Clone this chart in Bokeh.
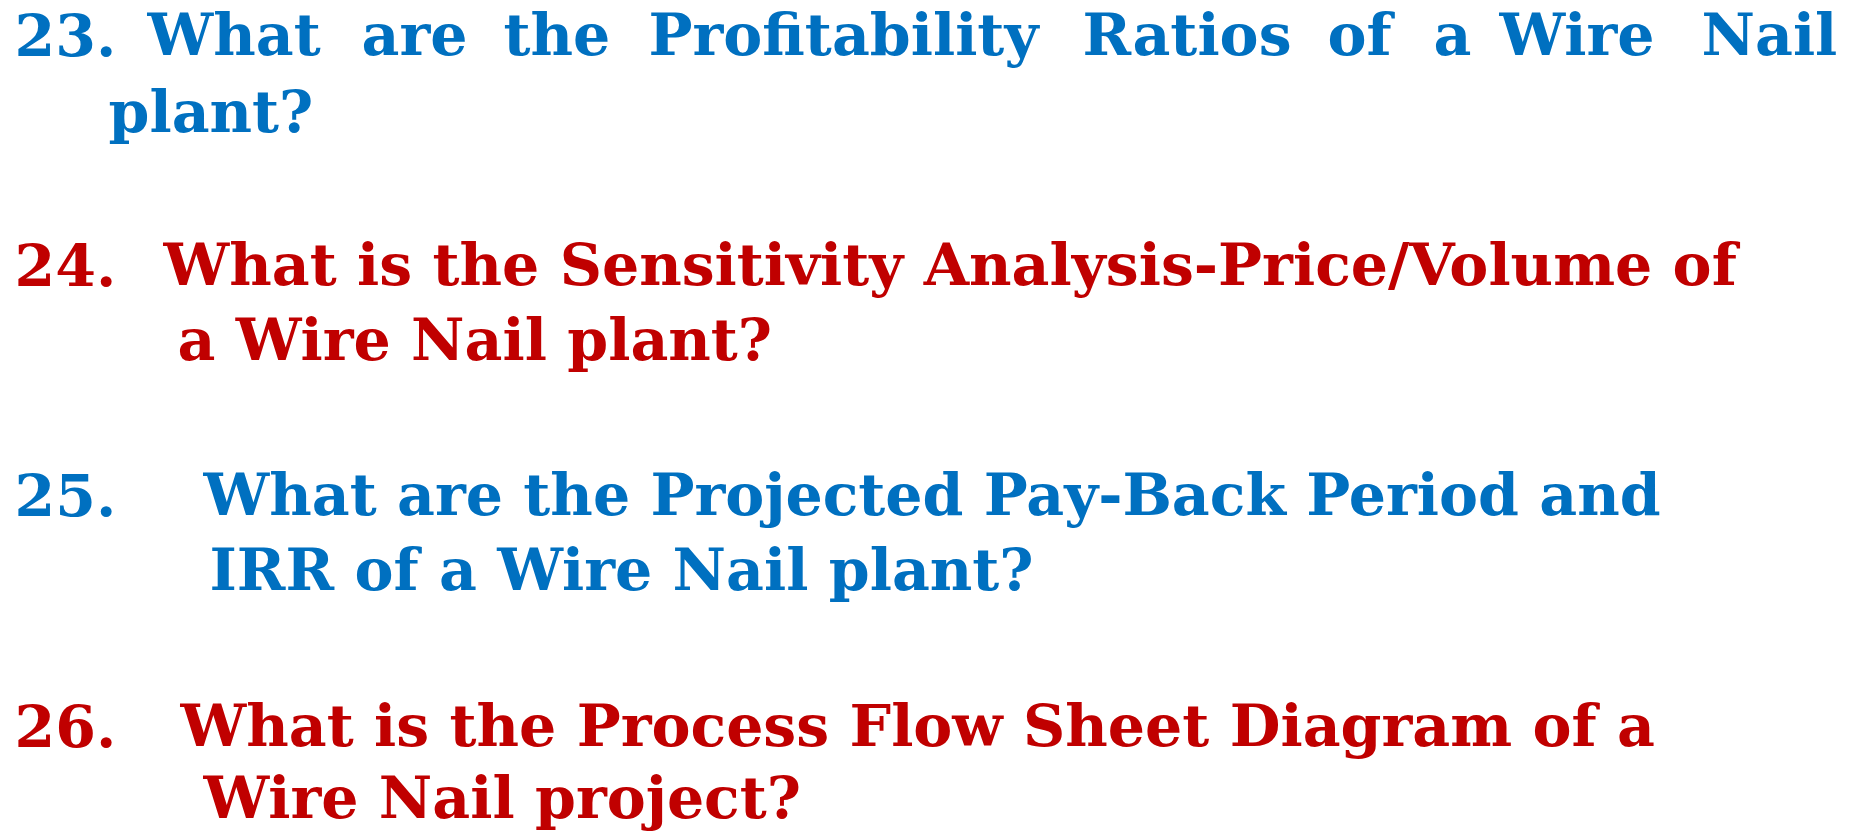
from bokeh.plotting import figure
from bokeh.models import Range1d
from bokeh.core.properties import value
from bokeh.embed import file_html
from bokeh.resources import INLINE

# ---- content ----
numbers = ["23.", "24.", "25.", "26."]
first_lines = [
    "What are the Profitability Ratios of a Wire Nail",
    "What is the Sensitivity Analysis-Price/Volume of",
    "What are the Projected Pay-Back Period and",
    "What is the Process Flow Sheet Diagram of a",
]
second_lines = [
    "plant?",
    "a Wire Nail plant?",
    "IRR of a Wire Nail plant?",
    "Wire Nail project?",
]
colors = ["#0070C0", "#C00000", "#0070C0", "#C00000"]

# ---- layout (pixels, figure coordinates, y downward) ----
W, H = 1838, 839
FONT = "DejaVu Serif"
SIZE = "58.5px"
num_x = 14
line1_y = [34, 264, 494, 725]
line2_y = [111, 339, 569, 797]
text1_x = [147, 163, 203, 180]
text2_x = [108, 177, 209, 203]
# first item is justified across the full width: x of each word
just_word_x = [147, 361, 503, 648, 1082, 1327, 1433, 1499, 1701]

p = figure(width=W, height=H, x_range=Range1d(0, W), y_range=Range1d(H, 0),
           output_backend="svg", toolbar_location=None, min_border=0)
p.axis.visible = False
p.grid.visible = False
p.outline_line_color = None
p.background_fill_color = "white"
p.border_fill_color = "white"

common = dict(text_font=value(FONT), text_font_style="bold", text_font_size=SIZE,
              text_baseline="alphabetic", text_align="left")

for i in range(4):
    p.text(x=[num_x], y=[line1_y[i]], text=[numbers[i]], text_color=colors[i], **common)
    if i == 0:
        words = first_lines[0].split(" ")
        p.text(x=just_word_x, y=[line1_y[0]] * len(words), text=words,
               text_color=colors[0], **common)
    else:
        p.text(x=[text1_x[i]], y=[line1_y[i]], text=[first_lines[i]],
               text_color=colors[i], **common)
    p.text(x=[text2_x[i]], y=[line2_y[i]], text=[second_lines[i]],
           text_color=colors[i], **common)

open("out.html", "w").write(file_html(p, INLINE))
